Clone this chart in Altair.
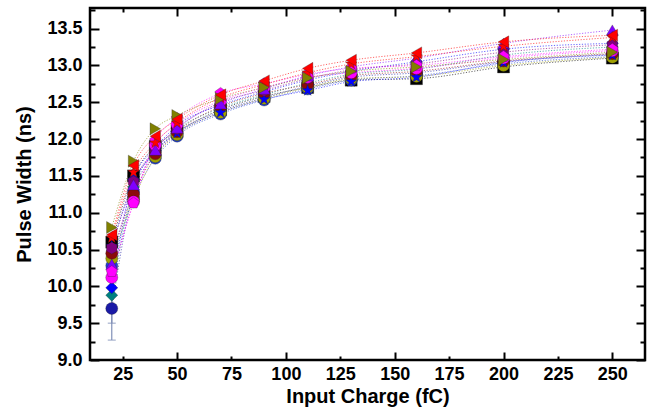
import altair as alt
import pandas as pd

# ---------------- data ----------------
x_charge = [20, 30, 40, 50, 70, 90, 110, 130, 160, 200, 250]

s_black_square   = [10.60, 11.50, 11.90, 12.10, 12.40, 12.58, 12.70, 12.80, 12.82, 12.98, 13.10]
s_navy_sphere    = [9.70, 11.28, 11.78, 12.08, 12.38, 12.56, 12.72, 12.84, 12.90, 13.05, 13.15]
s_cyan_diamond   = [9.88, 11.35, 11.82, 12.12, 12.42, 12.60, 12.76, 12.88, 12.95, 13.14, 13.25]
s_blue_diamond   = [9.98, 11.45, 11.88, 12.18, 12.46, 12.64, 12.80, 12.92, 13.05, 13.22, 13.30]
s_royal_circle   = [10.28, 11.20, 11.74, 12.04, 12.34, 12.53, 12.68, 12.80, 12.86, 13.02, 13.12]
s_olive_circle   = [10.38, 11.18, 11.76, 12.06, 12.36, 12.55, 12.70, 12.82, 12.85, 13.00, 13.11]
s_wine_sphere    = [10.45, 11.25, 11.80, 12.10, 12.44, 12.62, 12.74, 12.86, 12.92, 13.06, 13.16]
s_blue_star      = [10.55, 11.40, 11.84, 12.08, 12.36, 12.54, 12.66, 12.78, 12.84, 13.04, 13.14]
s_purple_hexagon = [10.52, 11.42, 11.86, 12.14, 12.50, 12.66, 12.82, 12.94, 13.02, 13.18, 13.28]
s_magenta_circle = [10.12, 11.15, 11.92, 12.20, 12.52, 12.70, 12.84, 12.90, 12.96, 13.10, 13.20]
s_violet_tri_up  = [10.30, 11.38, 11.85, 12.15, 12.48, 12.68, 12.86, 12.98, 13.10, 13.30, 13.48]
s_magenta_pent   = [10.20, 11.13, 11.98, 12.28, 12.62, 12.75, 12.88, 12.96, 13.00, 13.12, 13.22]
s_red_star       = [10.66, 11.55, 11.95, 12.22, 12.56, 12.74, 12.90, 13.02, 13.12, 13.26, 13.38]
s_olive_tri_right = [10.80, 11.70, 12.14, 12.32, 12.55, 12.70, 12.83, 12.92, 12.98, 13.08, 13.18]
s_red_tri_left   = [10.70, 11.64, 12.04, 12.27, 12.60, 12.79, 12.96, 13.07, 13.17, 13.32, 13.41]

series_names = ["S01", "S02", "S03", "S04", "S05", "S06", "S07", "S08",
                "S09", "S10", "S11", "S12", "S13", "S14", "S15"]
series_values = [s_black_square, s_navy_sphere, s_cyan_diamond, s_blue_diamond,
                 s_royal_circle, s_olive_circle, s_wine_sphere, s_blue_star,
                 s_purple_hexagon, s_magenta_circle, s_violet_tri_up, s_magenta_pent,
                 s_red_star, s_olive_tri_right, s_red_tri_left]

# error bars at the lowest charge
err_series = ["S02", "S03"]
err_charge = [20, 20]
err_low = [9.27, 9.50]
err_high = [10.13, 10.26]

# tick values
x_label_ticks = [25, 50, 75, 100, 125, 150, 175, 200, 225, 250]
x_major_ticks = [50, 100, 150, 200, 250]
x_minor_ticks = [25, 75, 125, 175, 225]
y_label_ticks = [9.0, 9.5, 10.0, 10.5, 11.0, 11.5, 12.0, 12.5, 13.0, 13.5]
y_minor_ticks = [9.25, 9.75, 10.25, 10.75, 11.25, 11.75, 12.25, 12.75, 13.25, 13.75]

# ---------------- styles ----------------
PENT = "M0,-1L0.951,-0.309L0.588,0.809L-0.588,0.809L-0.951,-0.309Z"
HEX = "M0,-1L0.866,-0.5L0.866,0.5L0,1L-0.866,0.5L-0.866,-0.5Z"
STAR = ("M0,-1L0.235,-0.324L0.951,-0.309L0.380,0.124L0.588,0.809L0,0.4"
        "L-0.588,0.809L-0.380,0.124L-0.951,-0.309L-0.235,-0.324Z")

series_shapes = ["square", "circle", "diamond", "diamond", "circle", "circle", "circle",
                 STAR, HEX, "circle", "triangle-up", PENT, STAR, "triangle-right",
                 "triangle-left"]
series_colors = ["#000000", "#1a1aa6", "#008080", "#0000ff", "#2040d0", "#a0a000",
                 "#8b0a0a", "#0000ff", "#800080", "#ff00ff", "#8000ff", "#ff00ff",
                 "#ff0000", "#808000", "#ff0000"]

rows = []
for name, vals in zip(series_names, series_values):
    for xv, yv in zip(x_charge, vals):
        rows.append({"series": name, "charge": xv, "width": yv})
df = pd.DataFrame(rows)

df_err = pd.DataFrame({"series": err_series, "charge": err_charge,
                       "lo": err_low, "hi": err_high})

W, H = 555, 352
xs = alt.Scale(domain=[10, 265], nice=False, zero=False)
ys = alt.Scale(domain=[9.0, 13.78], nice=False, zero=False)
cscale = alt.Scale(domain=series_names, range=series_colors)
sscale = alt.Scale(domain=series_names, range=series_shapes)


def tick_axis(orient, offset, values, size):
    return alt.Axis(orient=orient, offset=offset, values=values, tickSize=size,
                    tickWidth=2, tickColor="black", labels=False, domain=False,
                    grid=False, title=None)


def axis_layer(xaxis, yaxis):
    return alt.Chart(df).mark_point(opacity=0).encode(
        x=alt.X("charge:Q", scale=xs, axis=xaxis),
        y=alt.Y("width:Q", scale=ys, axis=yaxis),
    )


label_layer = axis_layer(
    alt.Axis(orient="bottom", values=x_label_ticks, format="d", ticks=False, tickSize=0,
             domain=False, grid=False, labelFontSize=18, labelFontWeight="bold",
             labelPadding=5, labelColor="black", labelFlush=False, labelOverlap=False,
             title="Input Charge (fC)", titleFontSize=20, titleFontWeight="bold",
             titleColor="black", titlePadding=3),
    alt.Axis(orient="left", values=y_label_ticks, format=".1f", ticks=False, tickSize=0,
             domain=False, grid=False, labelFontSize=18, labelFontWeight="bold",
             labelPadding=8, labelColor="black", labelFlush=False, labelOverlap=False,
             title="Pulse Width (ns)", titleFontSize=20, titleFontWeight="bold",
             titleColor="black", titlePadding=12),
)
major_in = axis_layer(tick_axis("top", -H, x_major_ticks, 8),
                      tick_axis("right", -W, y_label_ticks, 9))
minor_in = axis_layer(tick_axis("top", -H, x_minor_ticks, 4),
                      tick_axis("right", -W, y_minor_ticks, 5))
major_top = axis_layer(tick_axis("bottom", -H, x_major_ticks, 8),
                       tick_axis("left", -W, y_label_ticks, 9))
minor_top = axis_layer(tick_axis("bottom", -H, x_minor_ticks, 4),
                       tick_axis("left", -W, y_minor_ticks, 5))

lines = alt.Chart(df).mark_line(strokeDash=[1.2, 1.6], strokeWidth=1, opacity=0.6,
                                interpolate="monotone").encode(
    x=alt.X("charge:Q", scale=xs, axis=None),
    y=alt.Y("width:Q", scale=ys, axis=None),
    color=alt.Color("series:N", scale=cscale, legend=None),
    detail="series:N",
)

err_rules = alt.Chart(df_err).mark_rule(color="#8090b8", strokeWidth=1.2).encode(
    x=alt.X("charge:Q", scale=xs, axis=None),
    y=alt.Y("lo:Q", scale=ys, axis=None),
    y2="hi:Q",
)
err_caps = alt.Chart(df_err).mark_tick(color="#8090b8", thickness=1.2, size=8,
                                       orient="horizontal").encode(
    x=alt.X("charge:Q", scale=xs, axis=None),
    y=alt.Y("lo:Q", scale=ys, axis=None),
)

points = alt.Chart(df).mark_point(filled=True, size=145, opacity=1, stroke="#222222",
                                  strokeWidth=0.5, strokeOpacity=0.6).encode(
    x=alt.X("charge:Q", scale=xs, axis=None),
    y=alt.Y("width:Q", scale=ys, axis=None),
    color=alt.Color("series:N", scale=cscale, legend=None),
    shape=alt.Shape("series:N", scale=sscale, legend=None),
    order=alt.Order("series:N"),
)

chart = alt.layer(
    label_layer, major_in, minor_in, major_top, minor_top,
    lines, err_rules, err_caps, points,
).resolve_axis(x="independent", y="independent").properties(
    width=W, height=H,
    padding={"left": 90, "top": 8, "right": 7, "bottom": 53},
    autosize=alt.AutoSizeParams(type="none"),
    background="white",
).configure_view(
    stroke="black", strokeWidth=2.5
).configure_axis(
    labelFont="Liberation Sans", titleFont="Liberation Sans"
)

chart.save("out.html", embed_options={"renderer": "svg", "actions": False})
